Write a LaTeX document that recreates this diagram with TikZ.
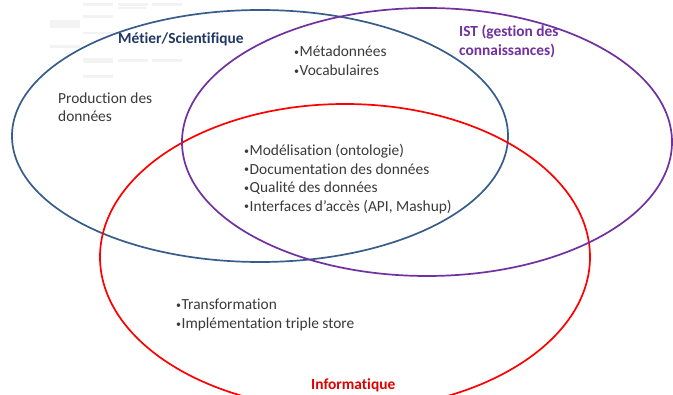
\documentclass[tikz,border=0pt]{standalone}
\usepackage{fontspec}
\setmainfont{Carlito}[Ligatures=NoCommon]
\definecolor{cblue}{HTML}{385D8A}
\definecolor{cpurple}{HTML}{7030A0}
\definecolor{cred}{HTML}{FF0000}
\definecolor{tnavy}{HTML}{1F3864}
\definecolor{tpurple}{HTML}{7030A0}
\definecolor{tred}{HTML}{E00000}
\definecolor{ttext}{HTML}{3A3A3A}
\definecolor{ghost}{HTML}{F3F3F3}
\newcommand{\bul}{\raisebox{0.12em}{\fontsize{10}{10}\selectfont •}\kern0.5pt}
\begin{document}
\begin{tikzpicture}[x=1pt,y=-1pt,
  ring/.style={line width=1.7pt},
  txt/.style={anchor=base west,inner sep=0pt,text=ttext,font=\fontsize{15.4}{18.5}\selectfont},
  ttl/.style={anchor=base west,inner sep=0pt,font=\fontsize{15.4}{18.5}\selectfont\bfseries},
  ghostbar/.style={fill=ghost,draw=none}]
\useasboundingbox (0,0) rectangle (673,395);
\fill[white] (0,0) rectangle (673,395);
% faint ghost table (top left)
\fill[ghostbar] (83,3) rectangle (113,6);
\fill[ghostbar] (118,3) rectangle (148,6);
\fill[ghostbar] (152,3) rectangle (182,6);
\fill[ghostbar] (118,7) rectangle (147,9);
\fill[ghostbar] (83,15) rectangle (113,18);
\fill[ghostbar] (50,20) rectangle (80,28);
\fill[ghostbar] (83,32) rectangle (113,34);
\fill[ghostbar] (50,45) rectangle (80,48);
\fill[ghostbar] (83,58) rectangle (113,63);
\fill[ghostbar] (118,59) rectangle (148,62);
\fill[ghostbar] (152,59) rectangle (182,62);
\fill[ghostbar] (83,75) rectangle (113,78);
% ellipses
\draw[ring,cblue] (260,136) ellipse [x radius=248pt, y radius=126pt];
\draw[ring,cred] (345,257) ellipse [x radius=245pt, y radius=153pt];
\draw[ring,cpurple] (427,142) ellipse [x radius=245pt, y radius=134pt];
% titles
\node[ttl,text=tnavy] (metier) at (118,43.5) {Métier/Scientifique};
\node[ttl,text=tpurple] (ist1) at (459,37) {IST (gestion des};
\node[ttl,text=tpurple] (ist2) at (459,55.5) {connaissances)};
\node[ttl,text=tred] (info) at (311,390) {Informatique};
% texts
\node[txt] (prod1) at (58,103.5) {Production des};
\node[txt] (prod2) at (58,122) {données};
\node[txt] (meta) at (294,57) {\bul Métadonnées};
\node[txt] (voca) at (294,76) {\bul Vocabulaires};
\node[txt] (mod) at (244,156) {\bul Modélisation (ontologie)};
\node[txt] (doc) at (244,174.5) {\bul Documentation des données};
\node[txt] (qual) at (244,193) {\bul Qualité des données};
\node[txt] (intf) at (244,211.5) {\bul Interfaces d’accès (API, Mashup)};
\node[txt] (trans) at (176,310) {\bul Transformation};
\node[txt] (impl) at (176,329) {\bul Implémentation triple store};
\end{tikzpicture}
\end{document}
